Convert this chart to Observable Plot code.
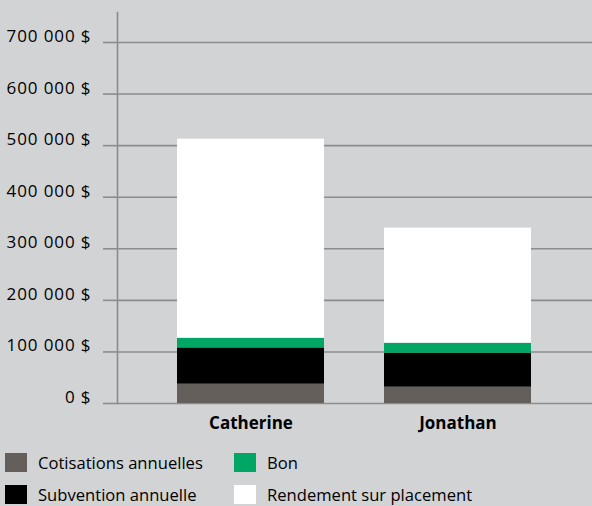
<!DOCTYPE html>
<html><head><meta charset="utf-8">
<script src="https://cdn.jsdelivr.net/npm/d3@7"></script>
<script src="https://cdn.jsdelivr.net/npm/@observablehq/plot@0.6"></script>
<style>
html,body{margin:0;padding:0;background:#d1d3d5;}
#wrap{position:relative;width:592px;height:506px;background:#d1d3d5;font-family:"Open Sans",sans-serif;color:#000;}
#chart{position:absolute;left:0;top:0;}
#chart svg g[aria-label="y-axis tick label"] text{letter-spacing:0.9px;}
.lg{position:absolute;display:flex;align-items:center;font-size:16.6px;}
.sw{width:22px;height:19px;margin-right:11px;}
</style></head>
<body><div id="wrap"><div id="chart"></div><div id="legend"></div></div>
<script>
const categories = ["Catherine", "Jonathan"];
const series = ["Cotisations annuelles", "Subvention annuelle", "Bon", "Rendement sur placement"];
const colors = ["#655f5b", "#000000", "#00a664", "#ffffff"];
const cotisations = [37400, 31600];
const subvention = [70400, 65900];
const bon = [18800, 19400];
const rendement = [386000, 223100];
const yTicks = [0, 100000, 200000, 300000, 400000, 500000, 600000, 700000];

const valuesBySeries = [cotisations, subvention, bon, rendement];
const data = [];
series.forEach((s, si) => categories.forEach((c, ci) => data.push({category: c, series: s, value: valuesBySeries[si][ci]})));

const fmt = d => (d === 0 ? "0" : d3.format(",")(d).replace(/,/g, " ")) + " $";

const chart = Plot.plot({
  width: 592,
  height: 440,
  marginLeft: 117,
  marginRight: 0,
  marginTop: 12,
  marginBottom: 37,
  style: {background: "transparent", fontFamily: "Open Sans, sans-serif", fontSize: "17px", color: "#000"},
  x: {domain: categories, padding: 0.288, label: null},
  y: {domain: [0, 700000], range: [403, 42], label: null},
  color: {domain: series, range: colors},
  marks: [
    Plot.gridY(yTicks, {stroke: "#8a8c8f", strokeOpacity: 1, strokeWidth: 1.6}),
    Plot.axisY(yTicks, {tickSize: 14, tickFormat: () => "", stroke: "#8a8c8f", strokeWidth: 1.6, label: null}),
    Plot.axisY(yTicks, {tickSize: 0, tickPadding: 26, dy: -6, fontSize: 17, tickFormat: fmt, label: null, fill: "#000"}),
    Plot.barY(data, Plot.stackY({x: "category", y: "value", fill: "series", order: series})),
    Plot.frame({anchor: "left", stroke: "#8a8c8f", strokeWidth: 1.6}),
    Plot.axisX({tickSize: 0, tickPadding: 13, fontSize: 17, fontWeight: "bold", label: null, fill: "#000"})
  ]
});
document.getElementById("chart").appendChild(chart);

const legendPos = [[5, 453], [5, 485], [234, 453], [234, 485]];
const lg = document.getElementById("legend");
series.forEach((s, i) => {
  const d = document.createElement("div");
  d.className = "lg";
  d.style.left = legendPos[i][0] + "px";
  d.style.top = (legendPos[i][1] - 2) + "px";
  d.style.height = "23px";
  d.innerHTML = `<div class="sw" style="background:${colors[i]}"></div><span>${s}</span>`;
  lg.appendChild(d);
});
</script></body></html>
